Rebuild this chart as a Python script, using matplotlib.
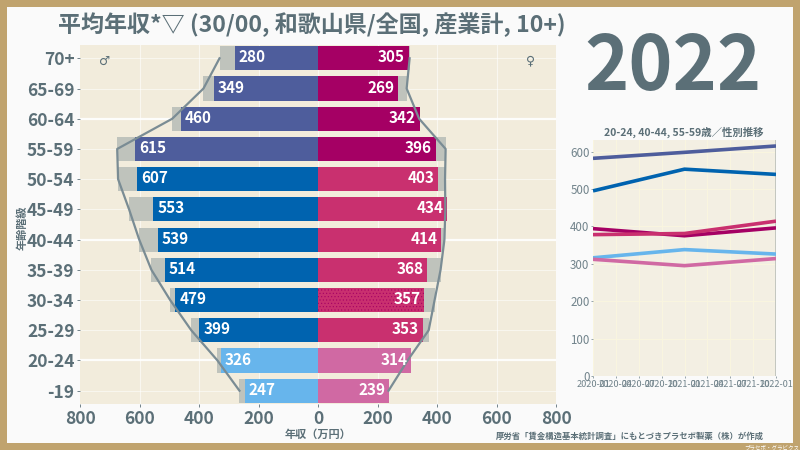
import matplotlib
matplotlib.use('Agg')
import matplotlib.pyplot as plt
from matplotlib.patches import Rectangle

plt.rcParams['font.family'] = ['Noto Sans CJK JP', 'DejaVu Sans']
plt.rcParams['hatch.linewidth'] = 0.4

ages = ['-19', '20-24', '25-29', '30-34', '35-39', '40-44', '45-49', '50-54', '55-59', '60-64', '65-69', '70+']
male = [247, 326, 399, 479, 514, 539, 553, 607, 615, 460, 349, 280]
female = [239, 314, 353, 357, 368, 414, 434, 403, 396, 342, 269, 305]
male_nat = [264, 338, 426, 497, 560, 601, 635, 672, 675, 490, 385, 331]
female_nat = [237, 301, 372, 392, 412, 425, 428, 427, 429, 340, 298, 308]
male_colors = ['#67B5EC', '#67B5EC', '#0063AF', '#0063AF', '#0063AF', '#0063AF', '#0063AF', '#0063AF',
               '#4E5D9C', '#4E5D9C', '#4E5D9C', '#4E5D9C']
female_colors = ['#D069A3', '#D069A3', '#C9306F', '#C9306F', '#C9306F', '#C9306F', '#C9306F', '#C9306F',
                 '#A50064', '#A50064', '#A50064', '#A50064']

trend_x = [0, 12, 24]
trend_ticks = [0, 3, 6, 9, 12, 15, 18, 21, 24]
trend_labels = ['2020-01', '2020-04', '2020-07', '2020-10', '2021-01', '2021-04', '2021-07', '2021-10', '2022-01']
m2024 = [316, 338, 326]
m4044 = [495, 553, 539]
m5559 = [582, 598, 615]
f2024 = [312, 295, 314]
f4044 = [378, 381, 414]
f5559 = [394, 375, 396]

TEXT = '#5B6F77'
TEXT2 = '#71838B'
BG = '#F2ECDC'
W, H = 800, 450

fig = plt.figure(figsize=(8, 4.5), dpi=100, facecolor='#C0A36E')
fig.add_artist(Rectangle((7 / W, 7 / H), 786 / W, 436 / H, transform=fig.transFigure, fc='#FAFAFA', ec='none',
                         zorder=-5))


def axes_px(l, t, r, b):
    return fig.add_axes([l / W, 1 - b / H, (r - l) / W, (b - t) / H])


ax = axes_px(80, 45, 556, 404)
ax.set_facecolor(BG)
y = list(range(len(ages)))
for yy in y:
    lw = 1.6 if ages[yy] in ('60-64', '40-44', '20-24') else 0.7
    ax.axhline(yy, color='white', lw=lw, alpha=0.9 if lw > 1 else 0.55, zorder=1)
for xx in [-600, -400, -200, 0, 200, 400, 600]:
    ax.axvline(xx, color='white', lw=0.8, alpha=0.6, zorder=1)

h = 0.8
ax.barh(y, [-v for v in male_nat], height=h, color='#BFC3BC', zorder=2)
ax.barh(y, female_nat, height=h, color='#BFC3BC', zorder=2)
ax.barh(y, [-v for v in male], height=h, color=male_colors, zorder=3)
bars = ax.barh(y, female, height=h, color=female_colors, zorder=3)
bars[ages.index('30-34')].set_hatch('.....')
bars[ages.index('30-34')].set_edgecolor('#A50064')
bars[ages.index('30-34')].set_linewidth(0)
ax.plot([-v for v in male_nat], y, color='#7A8C94', lw=1.6, zorder=4)
ax.plot(female_nat, y, color='#7A8C94', lw=1.6, zorder=4)

for yy, m, f in zip(y, male, female):
    ax.text(-m + 13, yy + 0.03, str(m), color='white', fontsize=11, fontweight='bold', ha='left', va='center', zorder=5)
    ax.text(f - 13, yy + 0.03, str(f), color='white', fontsize=11, fontweight='bold', ha='right', va='center', zorder=5)

ax.set_xlim(-800, 800)
ax.set_ylim(-0.44, 11.44)
ax.set_yticks(y, ages)
xt = [-800, -600, -400, -200, 0, 200, 400, 600, 800]
ax.set_xticks(xt, [str(abs(v)) for v in xt])
ax.tick_params(axis='both', labelsize=12.5, labelcolor=TEXT, color=TEXT, length=2, width=0.6, pad=2)
for lab in ax.get_xticklabels() + ax.get_yticklabels():
    lab.set_fontweight('bold')
for s in ax.spines.values():
    s.set_visible(False)
ax.set_xlabel('年収（万円）', fontsize=8, color=TEXT, fontweight='bold', labelpad=0)
ax.set_ylabel('年齢階級', fontsize=8, color=TEXT, fontweight='bold', labelpad=1)
ax.yaxis.set_label_coords(-0.108, 0.49)
ax.text(105 / W, 1 - 61 / H, '♂', transform=fig.transFigure, fontsize=9, color=TEXT, ha='center', va='center',
        family=['DejaVu Sans'])
ax.text(531 / W, 1 - 61 / H, '♀', transform=fig.transFigure, fontsize=9, color=TEXT, ha='center', va='center',
        family=['DejaVu Sans'])

fig.text(312 / W, 1 - 25 / H, '平均年収*▽ (30/00, 和歌山県/全国, 産業計, 10+)', fontsize=16.6, fontweight='bold',
         color=TEXT, ha='center', va='center')
fig.text(673 / W, 1 - 68 / H, '2022', fontsize=54, fontweight='bold', color=TEXT, ha='center', va='center')
fig.text(684 / W, 1 - 132 / H, '20-24, 40-44, 55-59歳／性別推移', fontsize=7.5, fontweight='bold', color=TEXT,
         ha='center', va='center')

ax2 = axes_px(593, 140, 776, 376)
ax2.set_facecolor('#F3EFE3')
ax2.grid(color='#FAF6DF', lw=0.7)
ax2.set_axisbelow(True)
for vals, c in [(m5559, '#4E5D9C'), (m4044, '#0063AF'), (f5559, '#A50064'), (f4044, '#C9306F'),
                (m2024, '#67B5EC'), (f2024, '#D069A3')]:
    ax2.plot(trend_x, vals, color=c, lw=2.6, solid_capstyle='butt', clip_on=True)
ax2.set_xlim(0, 24)
ax2.set_ylim(0, 631)
ax2.set_xticks(trend_ticks, trend_labels)
ax2.set_yticks([0, 100, 200, 300, 400, 500, 600])
ax2.tick_params(axis='x', labelsize=6.6, labelcolor=TEXT2, color=TEXT2, length=1.5, width=0.5, pad=1.5)
ax2.tick_params(axis='y', labelsize=8.3, labelcolor=TEXT2, color=TEXT2, length=1.5, width=0.5, pad=1)
for s in ax2.spines.values():
    s.set_visible(False)
ax2.axvline(24, color='#BFC3BC', lw=2, zorder=1.5)

fig.text(764 / W, 1 - 436 / H, '厚労省「賃金構造基本統計調査」にもとづきプラセボ製薬（株）が作成', fontsize=6.0, fontweight='bold',
         color=TEXT, ha='right', va='center')
fig.text(799 / W, 1 - 447 / H, 'プラセボ・グラビクス', fontsize=4, color='white', ha='right', va='center')

fig.savefig('out.png', dpi=100, facecolor=fig.get_facecolor())
